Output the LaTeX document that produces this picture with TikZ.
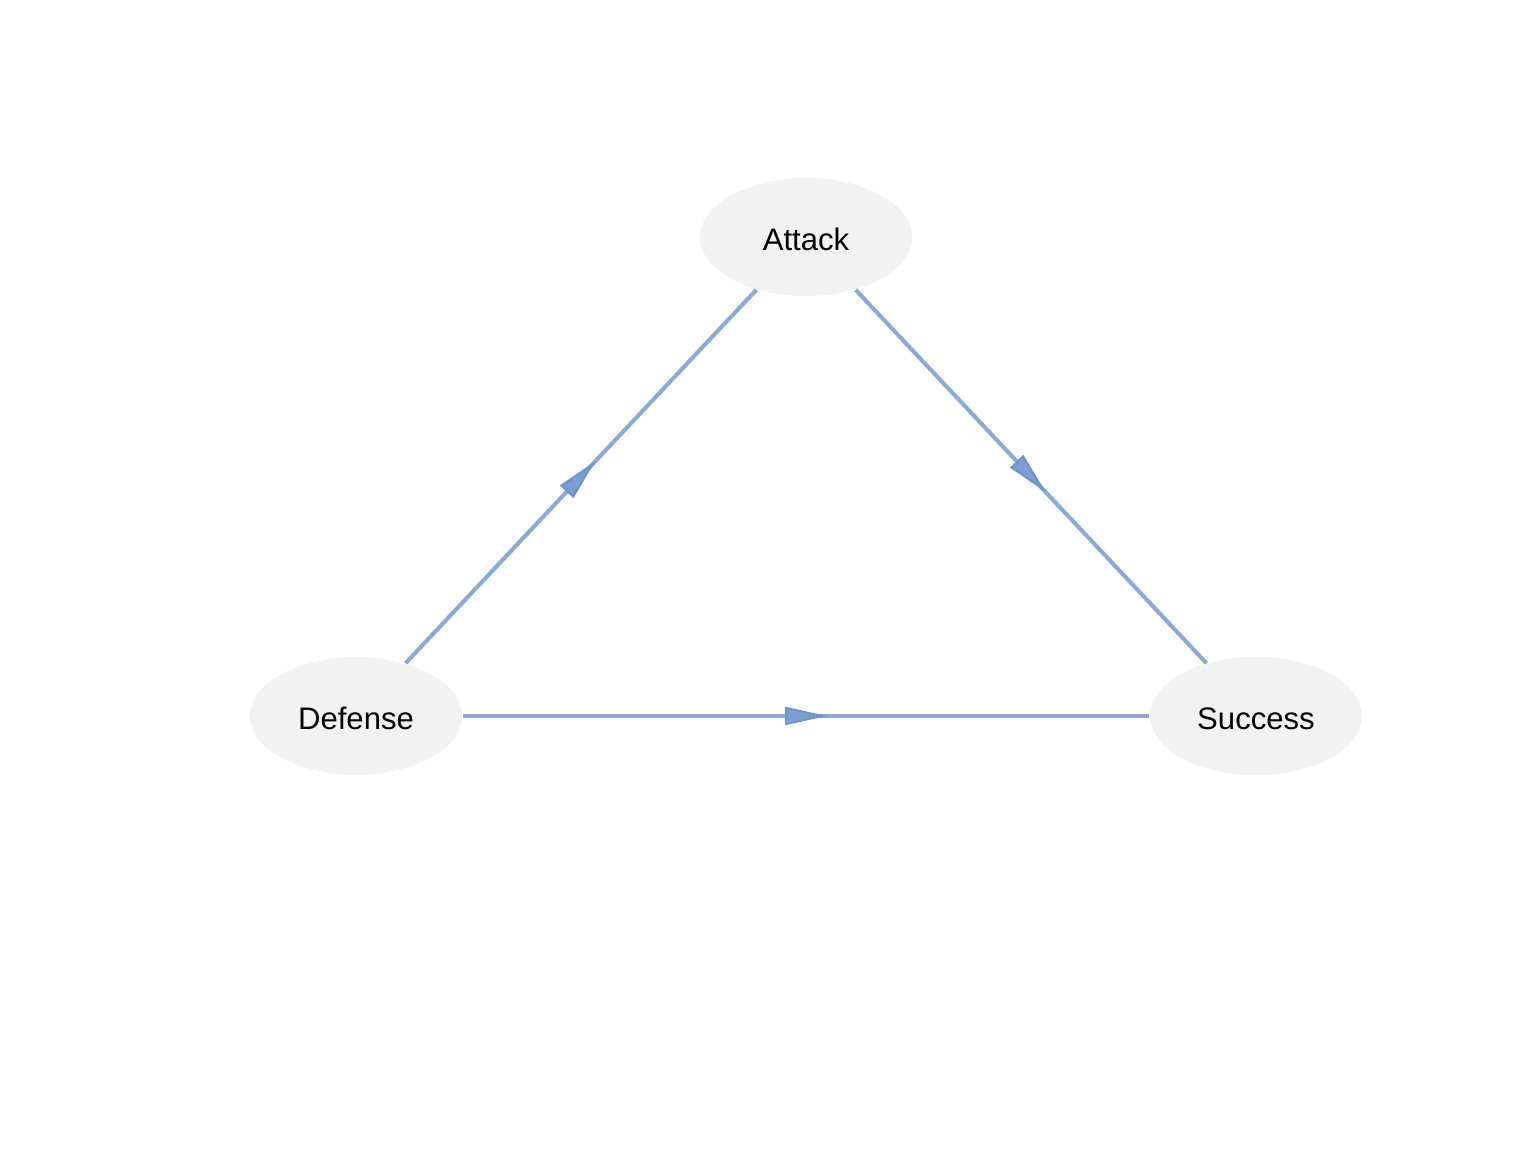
\documentclass[tikz,border=0pt]{standalone}
\usepackage{fontspec}
\setmainfont{Liberation Sans}
\usepackage{tikz}
\usetikzlibrary{arrows.meta,shapes.geometric,decorations.markings}
\definecolor{Ink}{HTML}{000000}
\definecolor{NodeFill}{HTML}{F2F2F2}
\definecolor{EdgeBlue}{HTML}{8AAAD5}
\definecolor{TipBlue}{HTML}{7C9ED0}
\definecolor{TipLine}{HTML}{6F94CB}
\tikzset{
  varnode/.style={ellipse,fill=NodeFill,draw=none,inner sep=0pt,minimum width=2.12cm,minimum height=1.18cm,text=Ink,text height=0.28cm,text depth=0cm},
  midArrow/.style={draw=EdgeBlue,line width=1.15pt,
    postaction={decorate},
    decoration={markings,mark=at position 0.5 with {\arrow[xshift=0.21cm]{Triangle[length=0.42cm,width=0.18cm,fill=TipBlue,color=TipLine,line width=0.6pt]}}}}
}
\begin{document}
\begin{tikzpicture}[x=1cm,y=1cm,font=\fontsize{8.85}{10.6}\selectfont]
  \useasboundingbox (0,0) rectangle (15.36,11.52);
  \node[varnode] (attack) at (8.06,9.15) {Attack};
  \node[varnode] (defense) at (3.56,4.36) {Defense};
  \node[varnode] (success) at (12.56,4.36) {Success};
  \draw[midArrow] (defense)--(attack);
  \draw[midArrow] (attack)--(success);
  \draw[midArrow] (defense)--(success);
\end{tikzpicture}
\end{document}
